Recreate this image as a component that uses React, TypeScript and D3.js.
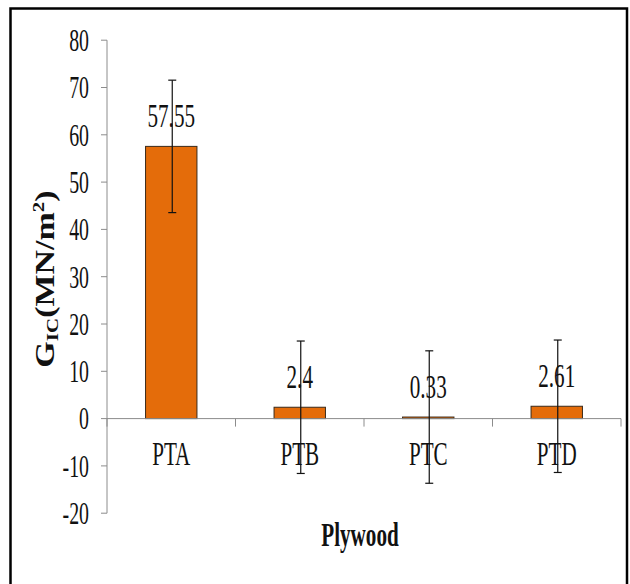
import React from "react";
import * as d3 from "d3";

const categories = ["PTA", "PTB", "PTC", "PTD"];
const values = [57.55, 2.4, 0.33, 2.61];
const errors = [14, 14, 14, 14];
const valueLabels = ["57.55", "2.4", "0.33", "2.61"];
const yTicks = [-20, -10, 0, 10, 20, 30, 40, 50, 60, 70, 80];

const W = 630;
const H = 584;
const SX = 0.64;
const FONT = "'Liberation Serif', 'Times New Roman', serif";

export default function App() {
  const y = d3.scaleLinear().domain([-20, 80]).range([513.2, 40.2]);
  const x = d3
    .scaleBand<string>()
    .domain(categories)
    .range([107, 621])
    .paddingInner(0.6)
    .paddingOuter(0.3);
  const step = x.step();
  const x0 = 107;
  const axisColor = "#8c8c8c";
  const boundaries = d3.range(categories.length + 1).map((i) => x0 + i * step);

  return (
    <svg
      width={W}
      height={H}
      style={{ position: "absolute", left: 0, top: 0, background: "#fff" }}
      fontFamily={FONT}
    >
      <rect x={0} y={0} width={W} height={H} fill="#fff" />
      <rect x={10.5} y={8.5} width={616.5} height={H + 10} fill="none" stroke="#000" strokeWidth={2.5} />

      {/* y axis */}
      <line x1={107} x2={107} y1={y(80)} y2={y(-20)} stroke={axisColor} strokeWidth={1} />
      {yTicks.map((t) => (
        <g key={t}>
          <line x1={101} x2={107} y1={y(t)} y2={y(t)} stroke={axisColor} strokeWidth={1} />
          <text
            transform={`translate(89,${y(t)}) scale(${SX},1)`}
            textAnchor="end"
            dy="0.35em"
            fontSize={31}
            fill="#111"
          >
            {t}
          </text>
        </g>
      ))}

      {/* bars */}
      {categories.map((c, i) => {
        const v = values[i];
        const top = y(Math.max(0, v));
        const bot = y(Math.min(0, v));
        return (
          <rect
            key={c}
            x={x(c)}
            y={top}
            width={x.bandwidth()}
            height={Math.max(1, bot - top)}
            fill="#E46C0A"
            stroke="#3a2a1a"
            strokeWidth={1}
          />
        );
      })}

      {/* x axis */}
      <line x1={107} x2={621} y1={y(0)} y2={y(0)} stroke={axisColor} strokeWidth={1} />
      {boundaries.map((b, i) => (
        <line key={i} x1={b} x2={b} y1={y(0)} y2={y(0) + 8} stroke={axisColor} strokeWidth={1} />
      ))}

      {/* category labels */}
      {categories.map((c) => (
        <text
          key={c}
          transform={`translate(${(x(c) as number) + x.bandwidth() / 2},465) scale(${SX},1)`}
          textAnchor="middle"
          fontSize={33}
          fill="#111"
        >
          {c}
        </text>
      ))}

      {/* data labels */}
      {categories.map((c, i) => (
        <text
          key={c}
          transform={`translate(${(x(c) as number) + x.bandwidth() / 2},${y(values[i]) - 19}) scale(${SX},1)`}
          textAnchor="middle"
          fontSize={33}
          fill="#111"
        >
          {valueLabels[i]}
        </text>
      ))}

      {/* error bars */}
      {categories.map((c, i) => {
        const cx = (x(c) as number) + x.bandwidth() / 2 + 1;
        const hi = y(values[i] + errors[i]);
        const lo = y(values[i] - errors[i]);
        return (
          <g key={c} stroke="#111" strokeWidth={1.2}>
            <line x1={cx} x2={cx} y1={hi} y2={lo} />
            <line x1={cx - 4} x2={cx + 4} y1={hi} y2={hi} />
            <line x1={cx - 4} x2={cx + 4} y1={lo} y2={lo} />
          </g>
        );
      })}

      {/* axis titles */}
      <text
        transform={`translate(360,546) scale(${SX},1)`}
        textAnchor="middle"
        fontSize={33}
        fontWeight="bold"
        fill="#111"
      >
        Plywood
      </text>
      <text
        transform={`translate(54,279) rotate(-90) scale(1,0.78)`}
        textAnchor="middle"
        fontSize={34}
        fontWeight="bold"
        fill="#111"
      >
        G
        <tspan fontSize={21} dy={5}>IC</tspan>
        <tspan dy={-5}>(MN/m</tspan>
        <tspan fontSize={21} dy={-13}>2</tspan>
        <tspan dy={13}>)</tspan>
      </text>
    </svg>
  );
}
